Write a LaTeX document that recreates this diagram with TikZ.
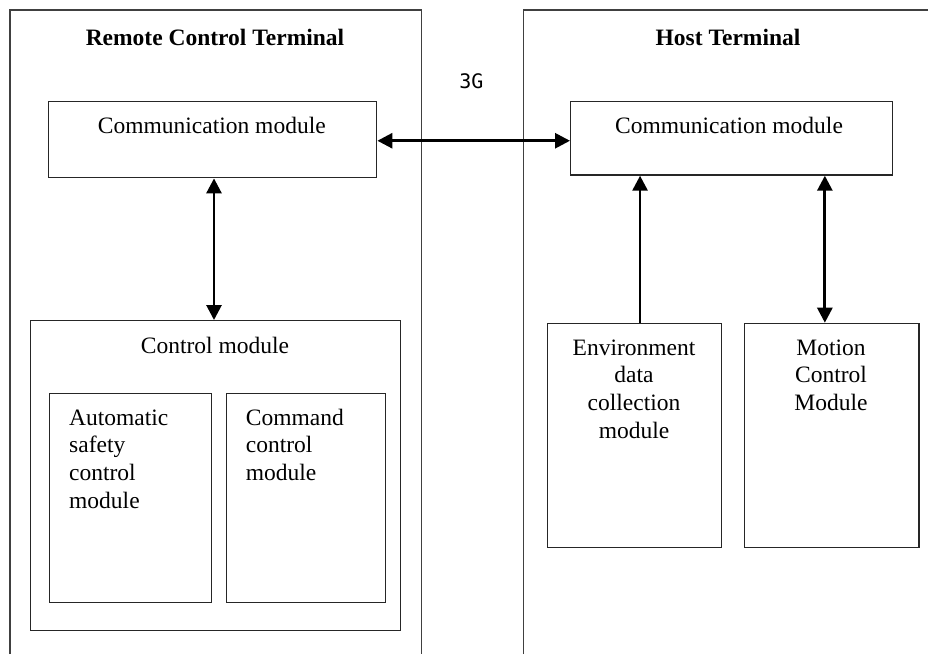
\documentclass[tikz,border=0pt]{standalone}
\usepackage{fontspec}
\setmainfont{Liberation Serif}
\newfontfamily\gfont{DejaVu Sans Mono}
\usetikzlibrary{arrows.meta}
\tikzset{
  frame/.style={line width=1.5pt, draw=black!75},
  box/.style={draw=black!85, line width=1.4pt, anchor=north west, inner sep=0pt},
  lbl/.style={anchor=base, inner sep=0pt, font=\fontsize{23.5}{27.7}\selectfont},
  conn/.style={line width=2.8pt, -{Triangle[length=15pt,width=15pt]}},
  dconn/.style={line width=2.8pt, {Triangle[length=15pt,width=15pt]}-{Triangle[length=15pt,width=15pt]}},
}
\newcommand{\mlL}[1]{\begin{tabular}[t]{@{}l@{}}#1\end{tabular}}
\newcommand{\mlC}[1]{\begin{tabular}[t]{@{}c@{}}#1\end{tabular}}
\begin{document}
\begin{tikzpicture}[x=1pt,y=-1pt]
\useasboundingbox (0,0) rectangle (928,654);
% outer frames
\coordinate (l1) at (10,654);
\coordinate (l2) at (10,10);
\coordinate (l3) at (421.7,10);
\coordinate (l4) at (421.7,654);
\draw[frame] (l1) -- (l2) -- (l3) -- (l4);
\coordinate (r1) at (523.7,654);
\coordinate (r2) at (523.7,10);
\coordinate (r3) at (928,10);
\draw[frame] (r1) -- (r2) -- (r3);
% titles
\node[lbl, font=\fontsize{23.5}{27.7}\selectfont\bfseries] (t1) at (215,45) {Remote Control Terminal};
\node[lbl, font=\fontsize{23.5}{27.7}\selectfont\bfseries] (t2) at (728,45) {Host Terminal};
\node[anchor=base, inner sep=0pt, font=\fontsize{20}{24}\gfont] (g) at (471.3,88) {3G};
% communication modules
\node[box, minimum width=328.3pt, minimum height=76.3pt] (commL) at (47.7,100.7) {};
\node[lbl] (commLt) at (211.8,133) {Communication module};
\node[box, minimum width=321.7pt, minimum height=73.6pt] (commR) at (570,100.7) {};
\node[lbl] (commRt) at (729,133) {Communication module};
% control module
\node[box, minimum width=370pt, minimum height=310pt] (ctrl) at (30,320) {};
\node[lbl] (ctrlt) at (215,353) {Control module};
\node[box, minimum width=162pt, minimum height=209pt] (auto) at (49,392.7) {};
\node[lbl, anchor=base west] (autot) at (69,425) {\mlL{Automatic\\safety\\control\\module}};
\node[box, minimum width=159.3pt, minimum height=209pt] (cmd) at (225.7,392.7) {};
\node[lbl, anchor=base west] (cmdt) at (245.7,425) {\mlL{Command\\control\\module}};
% host modules
\node[box, minimum width=174.3pt, minimum height=224pt] (env) at (546.7,322.7) {};
\node[lbl] (envt) at (634,355) {\mlC{Environment\\data\\collection\\module}};
\node[box, minimum width=174.3pt, minimum height=224pt] (mot) at (744,322.7) {};
\node[lbl] (mott) at (831,355) {\mlC{Motion\\Control\\Module}};
% connectors
\draw[dconn] ([yshift=-1.2pt]commL.east) -- ([yshift=-1.2pt]commL.east -| commR.west);
\draw[dconn] ([xshift=-1.7pt]ctrl.north |- commL.south) -- ([xshift=-1.7pt]ctrl.north);
\draw[conn] ([xshift=5.5pt]env.north) -- ([xshift=5.5pt]env.north |- commR.south);
\draw[dconn] ([xshift=-7pt]mot.north) -- ([xshift=-7pt]mot.north |- commR.south);
\end{tikzpicture}
\end{document}
